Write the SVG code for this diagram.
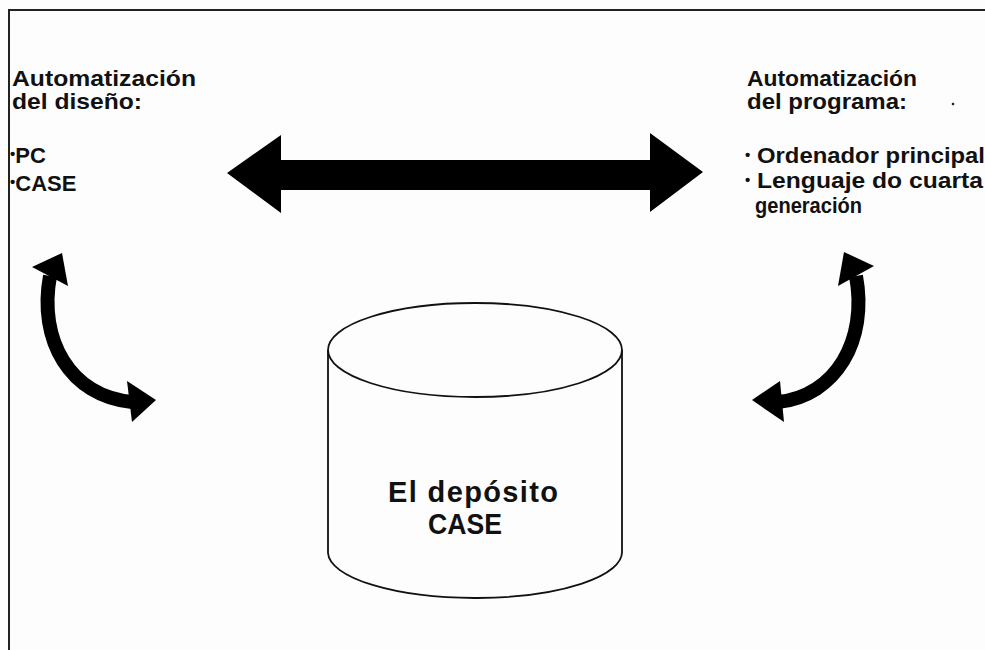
<svg xmlns="http://www.w3.org/2000/svg" width="985" height="650" viewBox="0 0 985 650">
<style>
.t{font-family:"Liberation Sans",Arial,sans-serif;font-weight:bold;font-size:22px;fill:#111}
.big{font-size:29px}
.b{font-size:15px}
.frame{fill:none;stroke:#222;stroke-width:2}
.cyl{fill:none;stroke:#111;stroke-width:1.8}
.shaft{fill:none;stroke:#000;stroke-width:14}
.head{fill:#000}
</style>
<rect width="985" height="650" fill="#fdfdfd"/>
<path class="frame" d="M9 650 L9 10 L985 10"/>

<g id="design">
<text class="t" x="12" y="86" textLength="184" lengthAdjust="spacingAndGlyphs">Automatización</text>
<text class="t" x="12" y="109" textLength="130" lengthAdjust="spacingAndGlyphs">del diseño:</text>
<text class="t" x="10" y="163"><tspan class="b" dy="-4">•</tspan><tspan dy="4">PC</tspan></text>
<text class="t" x="10" y="191"><tspan class="b" dy="-4">•</tspan><tspan dy="4">CASE</tspan></text>
</g>

<g id="program">
<text class="t" x="747" y="86" textLength="170" lengthAdjust="spacingAndGlyphs">Automatización</text>
<text class="t" x="747" y="109" textLength="160" lengthAdjust="spacingAndGlyphs">del programa:</text>
<circle cx="953" cy="104" r="1.3" fill="#222"/>
<text class="t" x="745" y="163"><tspan class="b" dy="-3">•</tspan><tspan x="757" dy="3" textLength="228" lengthAdjust="spacingAndGlyphs">Ordenador principal</tspan></text>
<text class="t" x="745" y="188"><tspan class="b" dy="-3">•</tspan><tspan x="757" dy="3" textLength="226" lengthAdjust="spacingAndGlyphs">Lenguaje do cuarta</tspan></text>
<text class="t" x="755" y="213" textLength="107" lengthAdjust="spacingAndGlyphs">generación</text>
</g>

<g id="repository">
<ellipse class="cyl" cx="475" cy="350" rx="147" ry="47"/>
<path class="cyl" d="M328 350 L328 553 A147 46 0 0 0 622 551 L622 350"/>
<text class="t big" x="388" y="502" textLength="170" lengthAdjust="spacing">El depósito</text>
<text class="t big" x="428" y="534" textLength="74" lengthAdjust="spacingAndGlyphs">CASE</text>
</g>

<g id="connectors">
<polygon class="head" points="227,173 281,135 281,160 650,160 650,133 703,172 650,212 650,190 281,190 281,213"/>
<path class="shaft" d="M50 276 C38 340 70 396 132 402"/>
<polygon class="head" points="62,253 32,267 68,286"/>
<polygon class="head" points="156,400 127,381 132,422"/>
<path class="shaft" d="M856 276 C868 340 836 396 778 402"/>
<polygon class="head" points="844,252 874,266 838,286"/>
<polygon class="head" points="752,400 780,381 784,422"/>
</g>
</svg>
